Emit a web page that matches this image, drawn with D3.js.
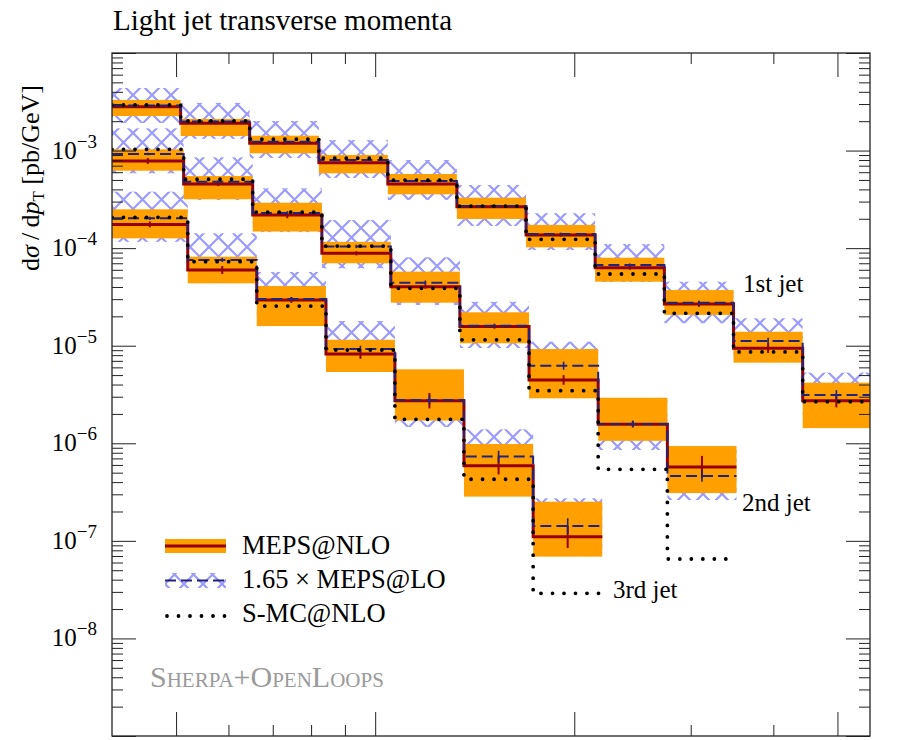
<!DOCTYPE html>
<html lang="en">
<head>
<meta charset="UTF-8">
<title>Light jet transverse momenta</title>
<script src="https://cdn.jsdelivr.net/npm/d3@7"></script>
<style>
body { margin: 0; background: #fff; }
text { font-family: "Liberation Serif", "DejaVu Serif", serif; fill: #000; }
</style>
</head>
<body>
<div id="chart"></div>
<script>
// pT bin edges [GeV] (log spaced), the 2nd and 3rd jet are drawn slightly shifted
const edges = [40, 50.8, 64.6, 82.2, 104.5, 132.9, 169.1, 215.1, 273.7, 348.2, 443.0, 560];
const jetNames = ["1st jet", "2nd jet", "3rd jet"];
const jetShift = [1, 1.0105, 1.025];

// MEPS@NLO central value, band low/high, stat. error (relative)
const nlo1 = [2.82e-3, 1.91e-3, 1.19e-3, 7.52e-4, 4.54e-4, 2.66e-4, 1.36e-4, 6.31e-5, 2.68e-5, 9.42e-6, 2.73e-6];
const nloLo1 = [2.26e-3, 1.41e-3, 9.37e-4, 5.85e-4, 3.56e-4, 1.99e-4, 1.02e-4, 4.53e-5, 2.07e-5, 6.70e-6, 1.43e-6];
const nloHi1 = [3.30e-3, 2.11e-3, 1.42e-3, 9.02e-4, 5.75e-4, 3.29e-4, 1.73e-4, 7.98e-5, 3.72e-5, 1.39e-5, 4.18e-6];
const nloErr1 = [0.03, 0.03, 0.03, 0.03, 0.03, 0.03, 0.04, 0.05, 0.07, 0.12, 0.17];

const nlo2 = [7.82e-4, 4.54e-4, 2.19e-4, 8.85e-5, 4.03e-5, 1.57e-5, 4.46e-6, 1.57e-6, 5.71e-7];
const nloLo2 = [6.22e-4, 3.17e-4, 1.48e-4, 7.00e-5, 2.76e-5, 1.06e-5, 2.89e-6, 1.06e-6, 3.09e-7];
const nloHi2 = [1.03e-3, 5.48e-4, 2.92e-4, 1.16e-4, 5.74e-5, 2.20e-5, 9.25e-6, 2.93e-6, 9.37e-7];
const nloErr2 = [0.07, 0.05, 0.08, 0.05, 0.05, 0.05, 0.12, 0.08, 0.30];

const nlo3 = [1.75e-4, 5.97e-5, 2.94e-5, 8.22e-6, 2.73e-6, 5.89e-7, 1.10e-7];
const nloLo3 = [1.26e-4, 4.36e-5, 1.59e-5, 5.38e-6, 1.71e-6, 2.84e-7, 6.89e-8];
const nloHi3 = [2.50e-4, 8.17e-5, 4.09e-5, 1.15e-5, 5.73e-6, 9.84e-7, 2.52e-7];
const nloErr3 = [0.07, 0.10, 0.07, 0.12, 0.20, 0.23, 0.30];

// 1.65 x MEPS@LO central value, band low/high, stat. error
const lo1 = [2.90e-3, 1.99e-3, 1.23e-3, 8.00e-4, 4.88e-4, 2.70e-4, 1.40e-4, 6.71e-5, 2.75e-5, 1.12e-5, 3.13e-6];
const loLo1 = [1.92e-3, 1.32e-3, 8.39e-4, 5.24e-4, 3.12e-4, 1.69e-4, 9.57e-5, 4.50e-5, 1.70e-5, 6.81e-6, 1.95e-6];
const loHi1 = [4.38e-3, 3.08e-3, 2.01e-3, 1.28e-3, 8.00e-4, 4.44e-4, 2.28e-4, 1.10e-4, 4.53e-5, 1.91e-5, 5.30e-6];
const loErr1 = [0.02, 0.02, 0.02, 0.02, 0.02, 0.03, 0.03, 0.04, 0.05, 0.08, 0.12];

const lo2 = [9.23e-4, 4.80e-4, 2.29e-4, 1.04e-4, 4.43e-5, 1.60e-5, 6.24e-6, 1.58e-6, 4.63e-7];
const loLo2 = [5.85e-4, 3.12e-4, 1.46e-4, 6.21e-5, 2.61e-5, 9.48e-6, 3.13e-6, 8.53e-7, 2.62e-7];
const loHi2 = [1.69e-3, 8.53e-4, 4.10e-4, 1.94e-4, 8.05e-5, 2.82e-5, 1.10e-5, 2.78e-6, 8.95e-7];
const loErr2 = [0.03, 0.03, 0.04, 0.04, 0.05, 0.05, 0.10, 0.08, 0.15];

const lo3 = [2.02e-4, 7.57e-5, 3.01e-5, 9.25e-6, 2.78e-6, 7.30e-7, 1.42e-7];
const loLo3 = [1.16e-4, 4.60e-5, 1.92e-5, 5.91e-6, 1.47e-6, 3.74e-7, 8.05e-8];
const loHi3 = [3.79e-4, 1.42e-4, 5.70e-5, 1.79e-5, 5.01e-6, 1.39e-6, 2.73e-7];
const loErr3 = [0.04, 0.05, 0.05, 0.08, 0.12, 0.15, 0.20];

// S-MC@NLO
const smc1 = [2.93e-3, 2.01e-3, 1.31e-3, 8.34e-4, 4.99e-4, 2.70e-4, 1.23e-4, 5.43e-5, 2.15e-5, 8.63e-6, 2.67e-6];
const smc2 = [1.03e-3, 5.08e-4, 2.34e-4, 1.05e-4, 3.87e-5, 1.15e-5, 3.46e-6, 5.41e-7, 6.52e-8];
const smc3 = [2.07e-4, 7.26e-5, 2.55e-5, 9.04e-6, 1.76e-6, 4.28e-7, 2.90e-8];

const legendNames = ["MEPS@NLO", "1.65 \u00d7 MEPS@LO", "S-MC@NLO"];

// axis ticks
const xMajor = [50, 100, 200, 500];
const xMinor = [60, 70, 80, 90, 300, 400];
const yExp = [-9, -8, -7, -6, -5, -4, -3, -2];
const yLabelExp = [-8, -7, -6, -5, -4, -3];

const jets = [
    {nlo: nlo1, nloLo: nloLo1, nloHi: nloHi1, nloErr: nloErr1, lo: lo1, loLo: loLo1, loHi: loHi1, loErr: loErr1, smc: smc1},
    {nlo: nlo2, nloLo: nloLo2, nloHi: nloHi2, nloErr: nloErr2, lo: lo2, loLo: loLo2, loHi: loHi2, loErr: loErr2, smc: smc2},
    {nlo: nlo3, nloLo: nloLo3, nloHi: nloHi3, nloErr: nloErr3, lo: lo3, loLo: loLo3, loHi: loHi3, loErr: loErr3, smc: smc3}
];
jets.forEach((j, k) => {
    j.name = jetNames[k];
    j.edges = edges.slice(0, j.nlo.length + 1).map((e, i) => i === 0 ? e : e * jetShift[k]);
});

const width = 899, height = 740;
const mLeft = 112, mRight = 870, mTop = 53, mBottom = 736;

const orange = "#ffa000";
const red = "#960000";
const navy = "#23237d";
const hatchBlue = "#9a9aff";

const svg = d3.select("#chart").append("svg")
    .attr("width", width)
    .attr("height", height);

const x = d3.scaleLog().domain([40, 560]).range([mLeft, mRight]);
const y = d3.scaleLog().domain([1e-9, 1e-2]).range([mBottom, mTop]);

const defs = svg.append("defs");
const pat = defs.append("pattern")
    .attr("id", "hatch")
    .attr("patternUnits", "userSpaceOnUse")
    .attr("width", 19).attr("height", 19);
pat.append("path")
    .attr("d", "M0,0 L19,19 M0,19 L19,0 M-2,17 L2,21 M17,-2 L21,2 M-2,2 L2,-2 M17,21 L21,17")
    .attr("stroke", hatchBlue)
    .attr("stroke-width", 2.2)
    .attr("fill", "none");

defs.append("clipPath").attr("id", "plotclip")
    .append("rect")
    .attr("x", mLeft).attr("y", mTop)
    .attr("width", mRight - mLeft).attr("height", mBottom - mTop);

const plot = svg.append("g").attr("clip-path", "url(#plotclip)");

function bins(j, lo, hi) {
    return j.nlo.map((d, i) => ({x0: j.edges[i], x1: j.edges[i + 1], lo: lo[i], hi: hi[i]}));
}

function steps(j, vals) {
    const pts = vals.map((v, i) => [j.edges[i], v]);
    pts.push([j.edges[vals.length], vals[vals.length - 1]]);
    return pts;
}

const stepLine = d3.line()
    .x(d => x(d[0]))
    .y(d => y(d[1]))
    .curve(d3.curveStepAfter);

// hatched LO bands (behind)
jets.forEach(j => {
    plot.append("g").selectAll("rect")
        .data(bins(j, j.loLo, j.loHi))
        .join("rect")
        .attr("x", d => x(d.x0))
        .attr("width", d => x(d.x1) - x(d.x0))
        .attr("y", d => y(d.hi))
        .attr("height", d => y(d.lo) - y(d.hi))
        .attr("fill", "url(#hatch)");
});

// orange NLO bands
jets.forEach(j => {
    plot.append("g").selectAll("rect")
        .data(bins(j, j.nloLo, j.nloHi))
        .join("rect")
        .attr("x", d => x(d.x0))
        .attr("width", d => x(d.x1) - x(d.x0))
        .attr("y", d => y(d.hi))
        .attr("height", d => y(d.lo) - y(d.hi))
        .attr("fill", orange);
});

function errBars(j, vals, errs, color, w) {
    plot.append("g").selectAll("line")
        .data(vals.map((v, i) => ({xc: Math.sqrt(j.edges[i] * j.edges[i + 1]), v: v, e: errs[i]})))
        .join("line")
        .attr("x1", d => x(d.xc)).attr("x2", d => x(d.xc))
        .attr("y1", d => y(d.v * (1 + d.e)))
        .attr("y2", d => y(d.v / (1 + d.e)))
        .attr("stroke", color)
        .attr("stroke-width", w);
}

jets.forEach(j => {
    plot.append("path")
        .attr("d", stepLine(steps(j, j.nlo)))
        .attr("fill", "none")
        .attr("stroke", red)
        .attr("stroke-width", 3);
    errBars(j, j.nlo, j.nloErr, red, 2);

    plot.append("path")
        .attr("d", stepLine(steps(j, j.lo)))
        .attr("fill", "none")
        .attr("stroke", navy)
        .attr("stroke-width", 2)
        .attr("stroke-dasharray", "11,5");
    errBars(j, j.lo, j.loErr, navy, 1.6);

    plot.append("path")
        .attr("d", stepLine(steps(j, j.smc)))
        .attr("fill", "none")
        .attr("stroke", "#000")
        .attr("stroke-width", 3.8)
        .attr("stroke-linecap", "round")
        .attr("stroke-dasharray", "0,11.5");
});

// axes: ticks on all four sides
function ticks(axis, tx, ty, vals, size) {
    const g = svg.append("g")
        .attr("transform", `translate(${tx},${ty})`)
        .call(axis.tickValues(vals).tickSize(size).tickFormat(""));
    g.select(".domain").remove();
    g.selectAll("line").attr("stroke", "#222").attr("stroke-width", 1);
}
const yMajor = yExp.map(e => Math.pow(10, e));
const yMinor = [];
yExp.slice(0, -1).forEach(e => {
    for (let k = 2; k <= 9; k++) yMinor.push(k * Math.pow(10, e));
});

ticks(d3.axisBottom(x), 0, mBottom, xMajor, -24);
ticks(d3.axisBottom(x), 0, mBottom, xMinor, -11);
ticks(d3.axisTop(x), 0, mTop, xMajor, -24);
ticks(d3.axisTop(x), 0, mTop, xMinor, -11);
ticks(d3.axisLeft(y), mLeft, 0, yMajor, -24);
ticks(d3.axisLeft(y), mLeft, 0, yMinor, -11);
ticks(d3.axisRight(y), mRight, 0, yMajor, -24);
ticks(d3.axisRight(y), mRight, 0, yMinor, -11);

svg.append("rect")
    .attr("x", mLeft).attr("y", mTop)
    .attr("width", mRight - mLeft).attr("height", mBottom - mTop)
    .attr("fill", "none")
    .attr("stroke", "#222")
    .attr("stroke-width", 1.3);

// y tick labels
svg.append("g").selectAll("text")
    .data(yLabelExp)
    .join("text")
    .attr("x", 97)
    .attr("y", d => y(Math.pow(10, d)) + 8)
    .attr("text-anchor", "end")
    .style("font-size", "25px")
    .each(function(d) {
        const t = d3.select(this);
        t.append("tspan").text("10");
        t.append("tspan").attr("dy", -11).style("font-size", "19px").text("\u2212" + Math.abs(d));
    });

// title and axis label
svg.append("text")
    .attr("x", 113).attr("y", 30)
    .style("font-size", "29px")
    .text("Light jet transverse momenta");

const yl = svg.append("text")
    .attr("transform", "translate(39,178) rotate(-90)")
    .attr("text-anchor", "middle")
    .style("font-size", "26px");
yl.append("tspan").text("d");
yl.append("tspan").style("font-style", "italic").text("\u03c3");
yl.append("tspan").text("\u2009/\u2009d");
yl.append("tspan").style("font-style", "italic").text("p");
yl.append("tspan").attr("dy", 5).style("font-size", "17px").text("T");
yl.append("tspan").attr("dy", -5).text(" [pb/GeV]");

// jet labels
const jetLabelPos = [[743, 292], [742, 511], [613, 598]];
svg.append("g").selectAll("text")
    .data(jetNames)
    .join("text")
    .attr("x", (d, i) => jetLabelPos[i][0])
    .attr("y", (d, i) => jetLabelPos[i][1])
    .style("font-size", "25px")
    .text(d => d);

// legend
const lg = svg.append("g").attr("transform", "translate(165,546)");
lg.append("rect").attr("x", 0).attr("y", -7).attr("width", 61).attr("height", 14).attr("fill", orange);
lg.append("line").attr("x1", 0).attr("x2", 61).attr("y1", 0).attr("y2", 0).attr("stroke", red).attr("stroke-width", 3);
lg.append("rect").attr("x", 0).attr("y", 27).attr("width", 61).attr("height", 15).attr("fill", "url(#hatch)");
lg.append("line").attr("x1", 0).attr("x2", 61).attr("y1", 34.5).attr("y2", 34.5)
    .attr("stroke", navy).attr("stroke-width", 2).attr("stroke-dasharray", "11,5");
lg.append("line").attr("x1", 2).attr("x2", 61).attr("y1", 70).attr("y2", 70)
    .attr("stroke", "#000").attr("stroke-width", 3.8).attr("stroke-linecap", "round").attr("stroke-dasharray", "0,11.5");
lg.selectAll("text")
    .data(legendNames)
    .join("text")
    .attr("x", 77)
    .attr("y", (d, i) => 8 + i * 34)
    .style("font-size", "26.5px")
    .text(d => d);

svg.append("text")
    .attr("x", 150).attr("y", 687)
    .style("font-size", "30px")
    .style("font-variant", "small-caps")
    .style("fill", "#9a9a9a")
    .text("Sherpa+OpenLoops");
</script>
</body>
</html>
